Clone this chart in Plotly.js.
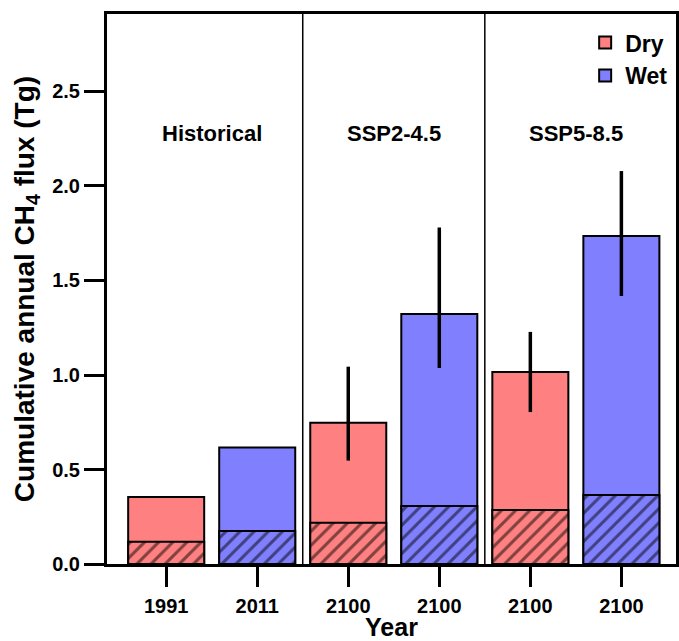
<!DOCTYPE html>
<html>
<head>
<meta charset="utf-8">
<script src="https://cdn.plot.ly/plotly-3.0.1.min.js"></script>
<style>html,body{margin:0;padding:0;background:#fff;}#chart{width:679px;height:641px;}</style>
</head>
<body>
<div id="chart"></div>
<script>
// Data
const tickLabels = ["1991", "2011", "2100", "2100", "2100", "2100"];
const dryPos = [0, 2, 4];
const wetPos = [1, 3, 5];
const dryTotal = [0.355, 0.748, 1.016];
const dryHatched = [0.118, 0.218, 0.286];
const dryErrUp = [0, 0.296, 0.212];
const dryErrDown = [0, 0.201, 0.212];
const wetTotal = [0.617, 1.323, 1.735];
const wetHatched = [0.175, 0.307, 0.365];
const wetErrUp = [0, 0.457, 0.344];
const wetErrDown = [0, 0.286, 0.317];
const groupLabels = ["Historical", "SSP2-4.5", "SSP5-8.5"];
const groupCenters = [0.5, 2.5, 4.5];
const dividers = [1.5, 3.5];

const RED = "#FF8080";
const BLUE = "#8080FF";
const FONT = "Liberation Sans, Arial, sans-serif";
const barW = 0.835;

const errBar = (up, down) => ({
  type: "data", symmetric: false, array: up, arrayminus: down,
  color: "#000", thickness: 3.5, width: 0,
  visible: true
});

const traces = [
  {
    type: "bar", name: "Dry", x: dryPos, y: dryTotal, width: barW,
    marker: {color: RED, line: {color: "#000", width: 2}},
    error_y: errBar(dryErrUp, dryErrDown), hoverinfo: "none"
  },
  {
    type: "bar", name: "Wet", x: wetPos, y: wetTotal, width: barW,
    marker: {color: BLUE, line: {color: "#000", width: 2}},
    error_y: errBar(wetErrUp, wetErrDown), hoverinfo: "none"
  },
  {
    type: "bar", name: "Dry hatched", x: dryPos, y: dryHatched, width: barW, showlegend: false,
    marker: {color: RED, line: {color: "#000", width: 2},
      pattern: {shape: "/", fgcolor: "#000", bgcolor: RED, size: 10, solidity: 0.3, fillmode: "overlay"}},
    hoverinfo: "none"
  },
  {
    type: "bar", name: "Wet hatched", x: wetPos, y: wetHatched, width: barW, showlegend: false,
    marker: {color: BLUE, line: {color: "#000", width: 2},
      pattern: {shape: "/", fgcolor: "#000", bgcolor: BLUE, size: 10, solidity: 0.3, fillmode: "overlay"}},
    hoverinfo: "none"
  }
];

const shapes = dividers.map(d => ({
  type: "line", xref: "x", yref: "paper", x0: d, x1: d, y0: 0, y1: 1,
  line: {color: "#000", width: 1.5}
}));

const annotations = groupLabels.map((t, i) => ({
  x: groupCenters[i], y: 2.28, xref: "x", yref: "y", text: t, showarrow: false,
  font: {family: FONT, size: 22, color: "#000", weight: "bold"}
}));

const layout = {
  width: 679, height: 641,
  margin: {l: 107, r: 3, t: 14, b: 77},
  paper_bgcolor: "#fff", plot_bgcolor: "#fff",
  barmode: "overlay",
  showlegend: true,
  legend: {
    x: 0.995, y: 0.987, xanchor: "right", yanchor: "top",
    font: {family: FONT, size: 23, color: "#000", weight: "bold"},
    bgcolor: "rgba(0,0,0,0)", itemwidth: 30, tracegroupgap: 0
  },
  xaxis: {
    range: [-0.65, 5.6], tickvals: [0, 1, 2, 3, 4, 5], ticktext: tickLabels,
    ticks: "outside", ticklen: 20, tickwidth: 3, tickcolor: "#000",
    showline: true, linewidth: 3, linecolor: "#000", mirror: true,
    showgrid: false, zeroline: false, ticklabelstandoff: 2,
    tickfont: {family: FONT, size: 20, color: "#000", weight: "bold"},
    title: {text: "Year", font: {family: FONT, size: 25, color: "#000", weight: "bold"}, standoff: 0}
  },
  yaxis: {
    range: [0, 2.91], tickvals: [0, 0.5, 1, 1.5, 2, 2.5],
    ticktext: ["0.0", "0.5", "1.0", "1.5", "2.0", "2.5"],
    ticks: "outside", ticklen: 20, tickwidth: 3, tickcolor: "#000",
    showline: true, linewidth: 3, linecolor: "#000", mirror: true,
    showgrid: false, zeroline: false,
    tickfont: {family: FONT, size: 20, color: "#000", weight: "bold"},
    title: {text: "Cumulative annual CH<sub>4</sub> flux (Tg)", font: {family: FONT, size: 28, color: "#000", weight: "bold"}, standoff: 10}
  },
  shapes: shapes,
  annotations: annotations
};

Plotly.newPlot("chart", traces, layout, {displayModeBar: false, staticPlot: true});
</script>
</body>
</html>
